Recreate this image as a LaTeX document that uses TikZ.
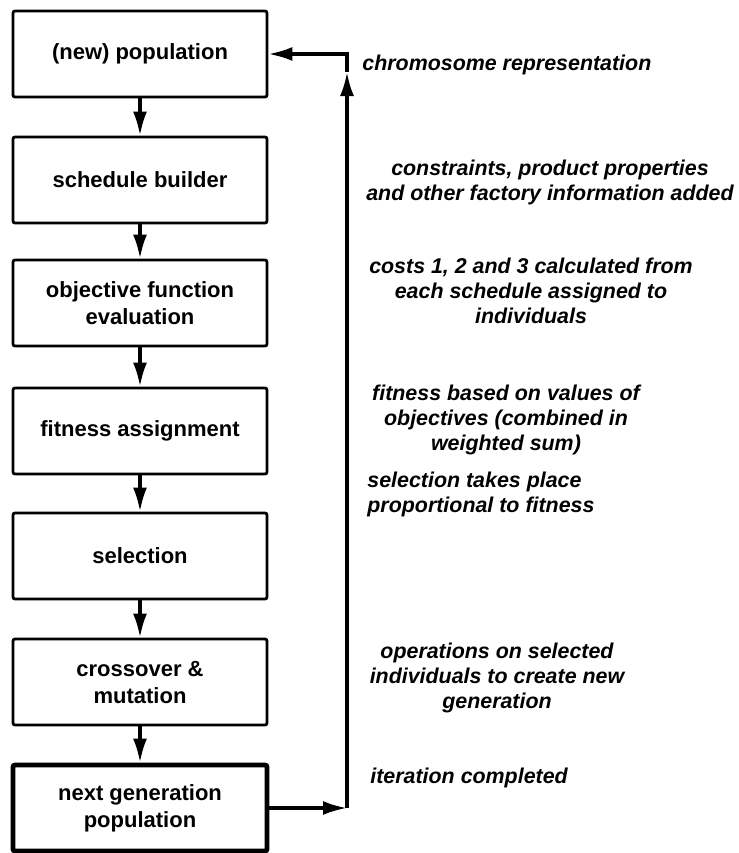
\documentclass[tikz,border=0pt]{standalone}
\usepackage{fontspec}
\setsansfont{Liberation Sans}
\usetikzlibrary{arrows.meta,positioning,calc}
\tikzset{>={Latex[length=12pt,width=7pt]}}
\tikzset{stage/.style={draw, line width=1.4pt, rounded corners=1pt,
    minimum width=127pt, minimum height=43pt, align=center,
    font=\sffamily\bfseries\fontsize{11}{13.5}\selectfont}}
\tikzset{remark/.style={align=center, inner sep=0pt,
    font=\sffamily\bfseries\itshape\fontsize{10.7}{12.5}\selectfont}}
\tikzset{flow/.style={->, line width=1.6pt}}

\begin{document}
\begin{tikzpicture}[x=0.5pt,y=-0.5pt]
  \useasboundingbox (0,0) rectangle (739,853);
  % the stages of one generation
  \node[stage] (newpop) at (140,54) {(new) population};
  \node[stage] (builder) at (140,180) {schedule builder};
  \node[stage] (objective) at (140,303) {objective function\\evaluation};
  \node[stage] (fitness) at (140,431) {fitness assignment};
  \node[stage] (select) at (140,556) {selection};
  \node[stage] (crossmut) at (140,682) {crossover \&\\mutation};
  \node[stage, line width=2.4pt] (nextpop) at (140,808) {next generation\\population};
  \foreach \a/\b in {newpop/builder, builder/objective, objective/fitness,
      fitness/select, select/crossmut, crossmut/nextpop}
    \draw[flow] (\a) -- (\b);
  % loop back to the top
  \coordinate (botturn) at (347,808);
  \coordinate (upmark) at (347,72);
  \coordinate (topturn) at (347,54);
  \draw[flow] (nextpop.east) -- (botturn);
  \draw[flow] (botturn) -- (upmark);
  \draw[flow] (upmark) -- (topturn) -- (newpop.east);
  % notes on the right
  \node[remark, anchor=west] (chromo) at (362,65) {chromosome representation};
  \node[remark] (constr) at (550,182) {constraints, product properties\\and other factory information added};
  \node[remark] (costs) at (531,291) {costs 1, 2 and 3 calculated from\\each schedule assigned to\\individuals};
  \node[remark] (fitnote) at (506,420) {fitness based on values of\\objectives (combined in\\weighted sum)};
  \node[remark, align=left, anchor=west] (selnote) at (367,494) {selection takes place\\proportional to fitness};
  \node[remark] (opsnote) at (497,678) {operations on selected\\individuals to create new\\generation};
  \node[remark, anchor=west] (iternote) at (370,778) {iteration completed};
\end{tikzpicture}
\end{document}
